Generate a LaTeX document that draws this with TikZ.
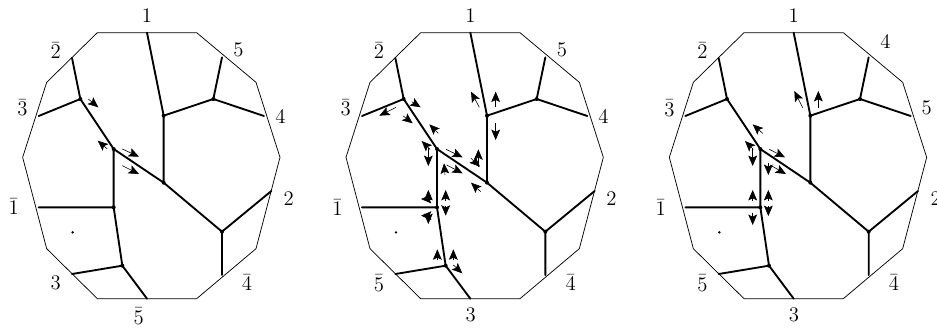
\documentclass[tikz,border=0pt]{standalone}
\usetikzlibrary{arrows.meta}
\tikzset{
  rim/.style={line width=0.55pt,line join=round},
  edgeline/.style={line width=1.4pt,line join=round,line cap=round},
  arr/.style={line width=0.45pt,-{Stealth[length=7.8pt,width=6.6pt,inset=1.6pt]}},
  lab/.style={inner sep=0pt,font=\fontsize{14.4}{17}\selectfont,scale=1.08,transform shape},
  junction/.style={circle,fill=black,inner sep=0pt,minimum size=3pt},
  spot/.style={circle,fill=black,inner sep=0pt,minimum size=2pt}
}
\newcommand{\basepanel}{%
  \draw[rim] (292,98)--(590,98)--(768,247)--(840,472)--(768,746)--(590,896)--(292,896)--(140,746)--(68,472)--(140,247)--cycle;
  \node[junction] (b) at (491,347) {};
  \node[junction] (c) at (640,297) {};
  \node[junction] (f) at (491,548) {};
  \node[junction] (g) at (341,447) {};
  \node[junction] (h) at (241,297) {};
  \node[junction] (k) at (341,622) {};
  \node[junction] (m) at (367,797) {};
  \node[junction] (p) at (666,695) {};
  \coordinate (ta) at (441,98);
  \coordinate (td) at (666,172);
  \coordinate (te) at (792,348);
  \coordinate (ti) at (216,174);
  \coordinate (tj) at (116,348);
  \coordinate (tl) at (116,622);
  \coordinate (tn) at (216,822);
  \coordinate (to) at (441,896);
  \coordinate (tq) at (814,573);
  \coordinate (tr) at (666,825);
  \node[spot] (dot) at (218,697) {};
  \draw[edgeline] (ta)--(b.center) (b.center)--(c.center) (c.center)--(td) (c.center)--(te) (b.center)--(f.center) (f.center)--(g.center) (g.center)--(h.center) (h.center)--(ti) (h.center)--(tj)
    (g.center)--(k.center) (k.center)--(tl) (k.center)--(m.center) (m.center)--(tn) (m.center)--(to) (f.center)--(p.center) (p.center)--(tq) (p.center)--(tr);
}
\begin{document}
\begin{tikzpicture}[x=0.25pt,y=-0.25pt]
\useasboundingbox (0,0) rectangle (2811,990);
% panel 1
\begin{scope}
  \basepanel
  \draw[arr] (265,297)--(295,322);
  \draw[arr] (322,447)--(293,422);
  \draw[arr] (367,447)--(417,470);
  \draw[arr] (367,497)--(417,522);
  \node[lab] (l1) at (441,48) {$1$};
  \node[lab] (l2) at (167,152) {$\bar 2$};
  \node[lab] (l3) at (715,148) {$5$};
  \node[lab] (l4) at (67,323) {$\bar 3$};
  \node[lab] (l5) at (841,350) {$4$};
  \node[lab] (l6) at (41,620) {$\bar 1$};
  \node[lab] (l7) at (866,597) {$2$};
  \node[lab] (l8) at (167,847) {$3$};
  \node[lab] (l9) at (741,848) {$\bar 4$};
  \node[lab] (l10) at (416,948) {$\bar 5$};
\end{scope}
% panel 2
\begin{scope}[shift={(970,0)}]
  \basepanel
  \draw[arr] (265,305)--(292,322);
  \draw[arr] (240,348)--(268,370);
  \draw[arr] (218,322)--(168,347);
  \draw[arr] (345,400)--(318,373);
  \draw[arr] (320,448)--(295,423);
  \draw[arr] (315,445)--(315,498);
  \draw[arr] (368,448)--(418,472);
  \draw[arr] (365,525)--(362,490);
  \draw[arr] (370,495)--(418,520);
  \draw[arr] (465,500)--(465,448);
  \draw[arr] (443,475)--(470,500);
  \draw[arr] (472,575)--(443,548);
  \draw[arr] (468,322)--(443,275);
  \draw[arr] (517,322)--(517,275);
  \draw[arr] (517,370)--(517,420);
  \draw[arr] (315,607)--(315,570);
  \draw[arr] (315,640)--(315,672);
  \draw[arr] (367,602)--(367,570);
  \draw[arr] (367,617)--(367,647);
  \draw[arr] (325,597)--(293,597);
  \draw[arr] (325,647)--(293,647);
  \draw[arr] (342,780)--(342,748);
  \draw[arr] (390,780)--(390,748);
  \draw[arr] (390,795)--(417,820);
  \node[lab] (l1) at (441,48) {$1$};
  \node[lab] (l2) at (167,152) {$\bar 2$};
  \node[lab] (l3) at (716,148) {$5$};
  \node[lab] (l4) at (67,323) {$\bar 3$};
  \node[lab] (l5) at (840,350) {$4$};
  \node[lab] (l6) at (42,623) {$\bar 1$};
  \node[lab] (l7) at (864,597) {$2$};
  \node[lab] (l8) at (167,850) {$\bar 5$};
  \node[lab] (l9) at (742,848) {$\bar 4$};
  \node[lab] (l10) at (442,945) {$3$};
\end{scope}
% panel 3
\begin{scope}[shift={(1940,0)}]
  \basepanel
  \draw[arr] (348,400)--(318,373);
  \draw[arr] (320,448)--(295,423);
  \draw[arr] (318,445)--(318,498);
  \draw[arr] (368,448)--(415,472);
  \draw[arr] (365,490)--(365,525);
  \draw[arr] (370,495)--(418,522);
  \draw[arr] (468,323)--(443,273);
  \draw[arr] (515,323)--(515,273);
  \draw[arr] (318,602)--(318,570);
  \draw[arr] (318,638)--(318,675);
  \draw[arr] (365,602)--(365,570);
  \draw[arr] (365,618)--(365,648);
  \node[lab] (l1) at (441,48) {$1$};
  \node[lab] (l2) at (167,152) {$\bar 2$};
  \node[lab] (l3) at (716,125) {$4$};
  \node[lab] (l4) at (68,325) {$\bar 3$};
  \node[lab] (l5) at (840,323) {$5$};
  \node[lab] (l6) at (42,623) {$\bar 1$};
  \node[lab] (l7) at (867,597) {$2$};
  \node[lab] (l8) at (167,850) {$\bar 5$};
  \node[lab] (l9) at (742,848) {$\bar 4$};
  \node[lab] (l10) at (442,945) {$3$};
\end{scope}
\end{tikzpicture}
\end{document}
